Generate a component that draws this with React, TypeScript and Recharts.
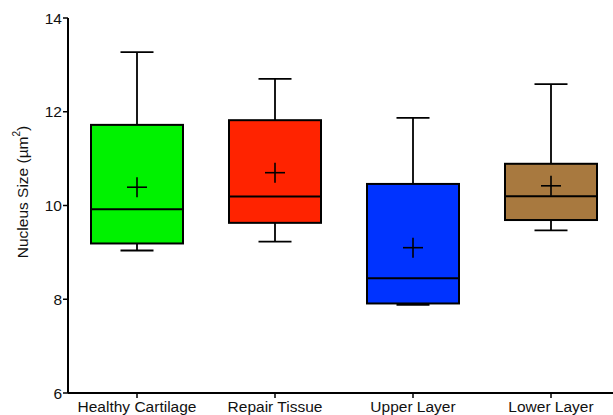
import { ComposedChart, Bar, XAxis, YAxis } from 'recharts';

// Nucleus size per tissue group (µm²)
const groups = ['Healthy Cartilage', 'Repair Tissue', 'Upper Layer', 'Lower Layer'];
const whiskerLow = [9.04, 9.23, 7.88, 9.47];
const q1 = [9.19, 9.63, 7.91, 9.69];
const median = [9.92, 10.19, 8.45, 10.2];
const q3 = [11.72, 11.82, 10.46, 10.89];
const whiskerHigh = [13.27, 12.7, 11.87, 12.59];
const mean = [10.39, 10.7, 9.1, 10.42];
const fills = ['#00F200', '#FF2300', '#0033FF', '#A8793F'];
const yTicks = [6, 8, 10, 12, 14];

const data = groups.map((name, i) => ({
  name,
  range: [whiskerLow[i], whiskerHigh[i]],
  lo: whiskerLow[i],
  q1: q1[i],
  median: median[i],
  q3: q3[i],
  hi: whiskerHigh[i],
  mean: mean[i],
  fill: fills[i],
}));

const FONT = '"Liberation Sans", Arial, sans-serif';

// the bar spans lo..hi on the y scale; inner marks are placed on that same mapping
function BoxShape(props: any) {
  const { x, y, width, height, payload } = props;
  const top = Math.min(y, y + height);
  const h = Math.abs(height);
  const k = h / (payload.hi - payload.lo);
  const yOf = (v: number) => top + (payload.hi - v) * k;
  const cx = x + width / 2;
  const cap = 16.5;
  const cross = 10;
  return (
    <g>
      <line x1={cx} x2={cx} y1={yOf(payload.hi)} y2={yOf(payload.q3)} stroke="#000" strokeWidth={1.8} />
      <line x1={cx} x2={cx} y1={yOf(payload.q1)} y2={yOf(payload.lo)} stroke="#000" strokeWidth={1.8} />
      <line x1={cx - cap} x2={cx + cap} y1={yOf(payload.hi)} y2={yOf(payload.hi)} stroke="#000" strokeWidth={1.8} />
      <line x1={cx - cap} x2={cx + cap} y1={yOf(payload.lo)} y2={yOf(payload.lo)} stroke="#000" strokeWidth={1.8} />
      <rect
        x={x}
        y={yOf(payload.q3)}
        width={width}
        height={yOf(payload.q1) - yOf(payload.q3)}
        fill={payload.fill}
        stroke="#000"
        strokeWidth={2}
      />
      <line x1={x} x2={x + width} y1={yOf(payload.median)} y2={yOf(payload.median)} stroke="#000" strokeWidth={2} />
      <line x1={cx - cross} x2={cx + cross} y1={yOf(payload.mean)} y2={yOf(payload.mean)} stroke="#000" strokeWidth={1.6} />
      <line x1={cx} x2={cx} y1={yOf(payload.mean) - cross} y2={yOf(payload.mean) + cross} stroke="#000" strokeWidth={1.6} />
    </g>
  );
}

function YLabel() {
  return (
    <text
      x={22}
      y={192}
      transform="rotate(-90 22 192)"
      textAnchor="middle"
      dominantBaseline="central"
      fontFamily={FONT}
      fontSize={15.5}
      fill="#111"
    >
      Nucleus Size (µm
      <tspan fontSize={10} dy={-6}>2</tspan>
      <tspan dy={6}>)</tspan>
    </text>
  );
}

export default function App() {
  return (
    <div style={{ position: 'absolute', left: 0, top: 0, width: 613, height: 415, overflow: 'hidden', background: '#fff' }}>
      <ComposedChart
        width={620}
        height={415}
        data={data}
        margin={{ top: 18, right: 0, left: 8, bottom: 0 }}
      >
        <XAxis
          dataKey="name"
          height={22}
          axisLine={{ stroke: '#000', strokeWidth: 2 }}
          tickLine={{ stroke: '#000', strokeWidth: 1.5 }}
          tickSize={5}
          tickMargin={3}
          tick={{ fill: '#111', fontSize: 15.5, fontFamily: FONT }}
          interval={0}
        />
        <YAxis
          width={60}
          domain={[6, 14]}
          ticks={yTicks}
          allowDataOverflow
          axisLine={{ stroke: '#000', strokeWidth: 2 }}
          tickLine={{ stroke: '#000', strokeWidth: 1.5 }}
          tickSize={5}
          tickMargin={1}
          tick={{ fill: '#111', fontSize: 15.5, fontFamily: FONT }}
        />
        <Bar dataKey="range" barSize={92} shape={BoxShape} isAnimationActive={false} />
      </ComposedChart>
      <svg width={40} height={415} style={{ position: 'absolute', left: 0, top: 0 }}>
        <YLabel />
      </svg>
    </div>
  );
}
